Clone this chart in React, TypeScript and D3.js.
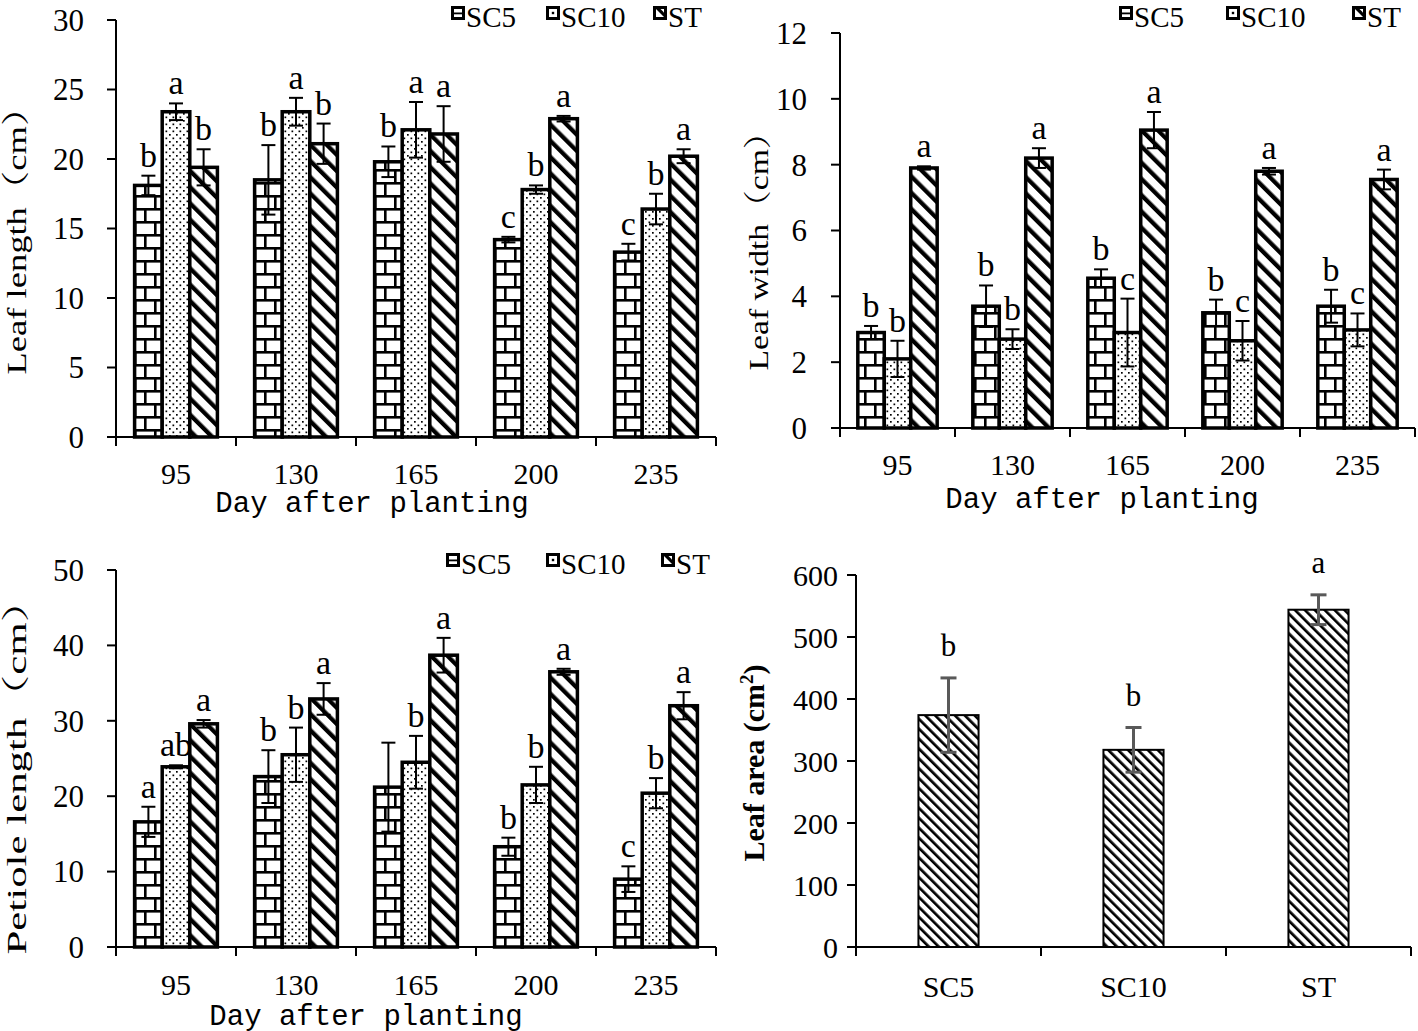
import React from 'react';
import * as d3 from 'd3';

// ---------- data ----------
const days = ['95', '130', '165', '200', '235'];
const series = ['SC5', 'SC10', 'ST'];

const lengthSC5 = [18.1, 18.5, 19.8, 14.2, 13.3];
const lengthSC10 = [23.4, 23.4, 22.1, 17.8, 16.4];
const lengthST = [19.4, 21.1, 21.8, 22.9, 20.2];
const lengthErrSC5 = [0.7, 2.5, 1.1, 0.2, 0.6];
const lengthErrSC10 = [0.6, 1.0, 2.0, 0.3, 1.1];
const lengthErrST = [1.3, 1.45, 2.0, 0.2, 0.5];
const lengthLetSC5 = ['b', 'b', 'b', 'c', 'c'];
const lengthLetSC10 = ['a', 'a', 'a', 'b', 'b'];
const lengthLetST = ['b', 'b', 'a', 'a', 'a'];

const widthSC5 = [2.9, 3.7, 4.55, 3.5, 3.7];
const widthSC10 = [2.1, 2.7, 2.9, 2.65, 2.98];
const widthST = [7.9, 8.2, 9.05, 7.8, 7.55];
const widthErrSC5 = [0.2, 0.63, 0.27, 0.4, 0.5];
const widthErrSC10 = [0.55, 0.3, 1.03, 0.6, 0.5];
const widthErrST = [0.05, 0.3, 0.55, 0.1, 0.3];
const widthLetSC5 = ['b', 'b', 'b', 'b', 'b'];
const widthLetSC10 = ['b', 'b', 'c', 'c', 'c'];
const widthLetST = ['a', 'a', 'a', 'a', 'a'];

const petioleSC5 = [16.6, 22.6, 21.2, 13.3, 9.0];
const petioleSC10 = [23.9, 25.5, 24.5, 21.5, 20.4];
const petioleST = [29.6, 32.9, 38.7, 36.5, 32.0];
const petioleErrSC5 = [2.0, 3.5, 5.9, 1.2, 1.7];
const petioleErrSC10 = [0.2, 3.6, 3.5, 2.4, 2.0];
const petioleErrST = [0.5, 2.1, 2.3, 0.4, 1.8];
const petioleLetSC5 = ['a', 'b', '', 'b', 'c'];
const petioleLetSC10 = ['ab', 'b', 'b', 'b', 'b'];
const petioleLetST = ['a', 'a', 'a', 'a', 'a'];

const areaCats = ['SC5', 'SC10', 'ST'];
const areaValues = [374, 318, 544];
const areaErr = [60, 36, 24];
const areaLetters = ['b', 'b', 'a'];

const lengthTicks = [0, 5, 10, 15, 20, 25, 30];
const widthTicks = [0, 2, 4, 6, 8, 10, 12];
const petioleTicks = [0, 10, 20, 30, 40, 50];
const areaTicks = [0, 100, 200, 300, 400, 500, 600];

// ---------- styling ----------
const SERIF = "'Liberation Serif', 'Times New Roman', serif";
const CJKSERIF = "'Liberation Serif', 'Noto Serif CJK SC', 'Noto Sans CJK SC', serif";
const MONO = "'Liberation Mono', 'DejaVu Sans Mono', monospace";
const patternIds = ['brick', 'dots', 'diag'];

type PanelCfg = {
  x0: number; step: number; yTop: number; yBottom: number; yMax: number;
  ticks: number[];
  values: number[][]; errs: number[][]; letters: string[][];
  legendX: number[]; legendBase: number;
  yTitle: string; yTitleX: number; yTitleY: number; yTitleLen: number;
  xTitleX: number; xTitleBase: number;
  xTickBase: number; yTickRight: number;
};

function Swatch({ x, base, kind }: { x: number; base: number; kind: number }) {
  const top = base - 21;
  return (
    <g>
      <rect x={x} y={top} width={14} height={14} fill="#000" />
      <rect x={x + 3} y={top + 3} width={8} height={8} fill="#fff" />
      {kind === 0 && <rect x={x + 3} y={top + 6.5} width={8} height={1.8} fill="#000" />}
      {kind === 1 && <rect x={x + 5.8} y={top + 5.8} width={2.4} height={2.4} fill="#000" />}
      {kind === 2 && <path d={`M${x + 3},${top + 3} L${x + 11},${top + 11} L${x + 11},${top + 6.5} L${x + 7.5},${top + 3} Z`} fill="#000" />}
    </g>
  );
}

function GroupedPanel({ cfg }: { cfg: PanelCfg }) {
  const n = days.length;
  const xEnd = cfg.x0 + cfg.step * n;
  const x = d3.scaleBand<string>().domain(days).range([cfg.x0, xEnd]).paddingInner(0.31).paddingOuter(0.155);
  const xs = d3.scaleBand<string>().domain(series).range([0, x.bandwidth()]);
  const y = d3.scaleLinear().domain([0, cfg.yMax]).range([cfg.yBottom, cfg.yTop]);
  const bw = xs.bandwidth();
  const boundaries = d3.range(n + 1).map((i) => cfg.x0 + i * cfg.step);
  return (
    <g>
      {series.map((s, si) => (
        <g key={s}>
          {days.map((d, di) => {
            const v = cfg.values[si][di];
            const bx = (x(d) as number) + (xs(s) as number);
            return (
              <rect key={d} x={bx} y={y(v)} width={bw} height={cfg.yBottom - y(v)}
                fill={`url(#${patternIds[si]})`} stroke="#000" strokeWidth={3.5} />
            );
          })}
          {days.map((d, di) => {
            const v = cfg.values[si][di];
            const e = cfg.errs[si][di];
            const cx = (x(d) as number) + (xs(s) as number) + bw / 2;
            const t = y(v + e), b = y(v - e);
            return (
              <g key={d} stroke="#000" strokeWidth={2}>
                <line x1={cx} x2={cx} y1={t} y2={b} />
                <line x1={cx - 7} x2={cx + 7} y1={t} y2={t} />
                <line x1={cx - 7} x2={cx + 7} y1={b} y2={b} />
              </g>
            );
          })}
        </g>
      ))}
      {series.map((s, si) =>
        days.map((d, di) => {
          const v = cfg.values[si][di];
          const e = cfg.errs[si][di];
          const cx = (x(d) as number) + (xs(s) as number) + bw / 2;
          return (
            <text key={s + d} x={cx} y={y(v + e) - 9} textAnchor="middle" fontFamily={SERIF} fontSize={34} fill="#000">
              {cfg.letters[si][di]}
            </text>
          );
        })
      )}
      <line x1={cfg.x0} x2={cfg.x0} y1={cfg.yTop} y2={cfg.yBottom + 9} stroke="#000" strokeWidth={2} />
      <line x1={cfg.x0 - 9} x2={xEnd} y1={cfg.yBottom} y2={cfg.yBottom} stroke="#000" strokeWidth={2} />
      {cfg.ticks.map((t) => (
        <g key={t}>
          <line x1={cfg.x0 - 9} x2={cfg.x0} y1={y(t)} y2={y(t)} stroke="#000" strokeWidth={2} />
          <text x={cfg.yTickRight} y={y(t)} dy="0.35em" textAnchor="end" fontFamily={SERIF} fontSize={31}>{t}</text>
        </g>
      ))}
      {boundaries.map((bx) => (
        <line key={bx} x1={bx} x2={bx} y1={cfg.yBottom} y2={cfg.yBottom + 9} stroke="#000" strokeWidth={2} />
      ))}
      {days.map((d) => (
        <text key={d} x={(x(d) as number) + x.bandwidth() / 2} y={cfg.xTickBase} textAnchor="middle" fontFamily={SERIF} fontSize={30}>{d}</text>
      ))}
      <text x={cfg.xTitleX} y={cfg.xTitleBase} textAnchor="middle" fontFamily={MONO} fontSize={29}>Day after planting</text>
      <text transform={`translate(${cfg.yTitleX},${cfg.yTitleY}) rotate(-90)`} textAnchor="middle" fontFamily={CJKSERIF}
        fontSize={28} textLength={cfg.yTitleLen} lengthAdjust="spacingAndGlyphs">{cfg.yTitle}</text>
      {series.map((s, si) => (
        <g key={s}>
          <Swatch x={cfg.legendX[si]} base={cfg.legendBase} kind={si} />
          <text x={cfg.legendX[si] + 15} y={cfg.legendBase} fontFamily={SERIF} fontSize={29}>{s}</text>
        </g>
      ))}
    </g>
  );
}

function AreaPanel() {
  const x0 = 856, step = 185, yTop = 575, yBottom = 947;
  const xEnd = x0 + step * areaCats.length;
  const x = d3.scaleBand<string>().domain(areaCats).range([x0, xEnd]).paddingInner(0.675).paddingOuter(0.3375);
  const y = d3.scaleLinear().domain([0, 600]).range([yBottom, yTop]);
  const bw = x.bandwidth();
  const boundaries = d3.range(areaCats.length + 1).map((i) => x0 + i * step);
  return (
    <g>
      {areaCats.map((c, i) => (
        <rect key={c} x={x(c)} y={y(areaValues[i])} width={bw} height={yBottom - y(areaValues[i])}
          fill="url(#diagThin)" stroke="#000" strokeWidth={2} />
      ))}
      {areaCats.map((c, i) => {
        const cx = (x(c) as number) + bw / 2;
        const t = y(areaValues[i] + areaErr[i]), b = y(areaValues[i] - areaErr[i]);
        return (
          <g key={c} stroke="#595959" strokeWidth={3}>
            <line x1={cx} x2={cx} y1={t} y2={b} />
            <line x1={cx - 8} x2={cx + 8} y1={t} y2={t} />
            <line x1={cx - 8} x2={cx + 8} y1={b} y2={b} />
          </g>
        );
      })}
      {areaCats.map((c, i) => (
        <text key={c} x={(x(c) as number) + bw / 2} y={y(areaValues[i] + areaErr[i]) - 22} textAnchor="middle"
          fontFamily={SERIF} fontSize={31}>{areaLetters[i]}</text>
      ))}
      <line x1={x0} x2={x0} y1={yTop} y2={yBottom + 9} stroke="#000" strokeWidth={2} />
      <line x1={x0 - 9} x2={xEnd} y1={yBottom} y2={yBottom} stroke="#000" strokeWidth={2} />
      {areaTicks.map((t) => (
        <g key={t}>
          <line x1={x0 - 9} x2={x0} y1={y(t)} y2={y(t)} stroke="#000" strokeWidth={2} />
          <text x={838} y={y(t)} dy="0.35em" textAnchor="end" fontFamily={SERIF} fontSize={30}>{t}</text>
        </g>
      ))}
      {boundaries.map((bx) => (
        <line key={bx} x1={bx} x2={bx} y1={yBottom} y2={yBottom + 9} stroke="#000" strokeWidth={2} />
      ))}
      {areaCats.map((c) => (
        <text key={c} x={(x(c) as number) + bw / 2} y={997} textAnchor="middle" fontFamily={SERIF} fontSize={30}>{c}</text>
      ))}
      <text transform={`translate(764,763) rotate(-90)`} textAnchor="middle" fontFamily={SERIF} fontWeight="bold"
        fontSize={30}>
        Leaf area (cm<tspan fontSize={19} dy={-11}>2</tspan><tspan dy={11}>)</tspan>
      </text>
    </g>
  );
}

export default function App() {
  const p1: PanelCfg = {
    x0: 116, step: 120, yTop: 20, yBottom: 437, yMax: 30, ticks: lengthTicks,
    values: [lengthSC5, lengthSC10, lengthST], errs: [lengthErrSC5, lengthErrSC10, lengthErrST],
    letters: [lengthLetSC5, lengthLetSC10, lengthLetST],
    legendX: [451, 546, 653], legendBase: 27,
    yTitle: 'Leaf length（cm）', yTitleX: 26, yTitleY: 232, yTitleLen: 285,
    xTitleX: 372, xTitleBase: 512, xTickBase: 484, yTickRight: 84,
  };
  const p2: PanelCfg = {
    x0: 840, step: 115, yTop: 33, yBottom: 428, yMax: 12, ticks: widthTicks,
    values: [widthSC5, widthSC10, widthST], errs: [widthErrSC5, widthErrSC10, widthErrST],
    letters: [widthLetSC5, widthLetSC10, widthLetST],
    legendX: [1119, 1226, 1352], legendBase: 27,
    yTitle: 'Leaf width（cm）', yTitleX: 768, yTitleY: 243, yTitleLen: 255,
    xTitleX: 1102, xTitleBase: 508, xTickBase: 475, yTickRight: 807,
  };
  const p3: PanelCfg = {
    x0: 116, step: 120, yTop: 570, yBottom: 947, yMax: 50, ticks: petioleTicks,
    values: [petioleSC5, petioleSC10, petioleST], errs: [petioleErrSC5, petioleErrSC10, petioleErrST],
    letters: [petioleLetSC5, petioleLetSC10, petioleLetST],
    legendX: [446, 546, 661], legendBase: 574,
    yTitle: 'Petiole length（cm）', yTitleX: 26, yTitleY: 767, yTitleLen: 375,
    xTitleX: 366, xTitleBase: 1025, xTickBase: 995, yTickRight: 84,
  };
  return (
    <svg width={1418} height={1031} style={{ position: 'absolute', left: 0, top: 0, background: '#fff' }}>
      <defs>
        <pattern id="brick" patternUnits="userSpaceOnUse" width={20} height={26}>
          <rect width={20} height={26} fill="#fff" />
          <rect x={0} y={0} width={20} height={2.6} fill="#000" />
          <rect x={0} y={13} width={20} height={2.6} fill="#000" />
          <rect x={4} y={0} width={2.6} height={13} fill="#000" />
          <rect x={14} y={13} width={2.6} height={13} fill="#000" />
        </pattern>
        <pattern id="dots" patternUnits="userSpaceOnUse" width={7} height={7}>
          <rect width={7} height={7} fill="#fff" />
          <rect x={1} y={1} width={1.7} height={1.7} fill="#000" />
          <rect x={4.5} y={4.5} width={1.7} height={1.7} fill="#000" />
        </pattern>
        <pattern id="diag" patternUnits="userSpaceOnUse" width={11.5} height={12} patternTransform="rotate(-45)">
          <rect width={11.5} height={12} fill="#fff" />
          <rect x={0} y={0} width={4.3} height={12} fill="#000" />
        </pattern>
        <pattern id="diagThin" patternUnits="userSpaceOnUse" width={7} height={8} patternTransform="rotate(-45)">
          <rect width={7} height={8} fill="#fff" />
          <rect x={0} y={0} width={2.7} height={8} fill="#000" />
        </pattern>
      </defs>
      <rect width={1418} height={1031} fill="#fff" />
      <GroupedPanel cfg={p1} />
      <GroupedPanel cfg={p2} />
      <GroupedPanel cfg={p3} />
      <AreaPanel />
    </svg>
  );
}
